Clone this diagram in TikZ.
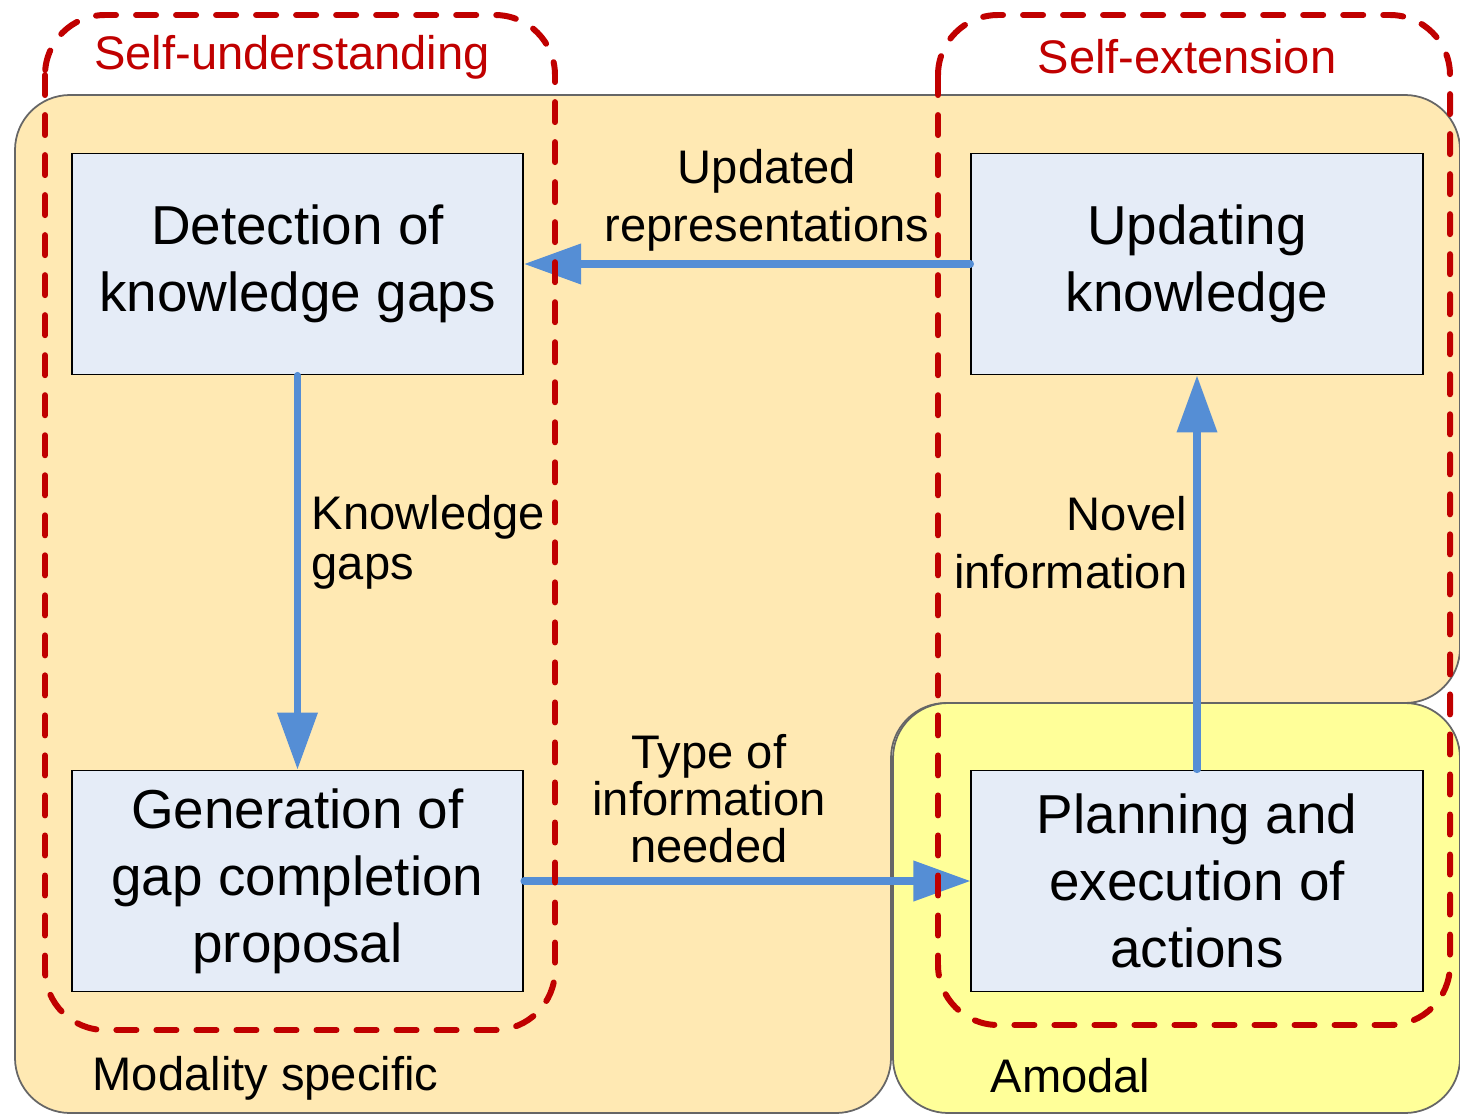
\documentclass[tikz,border=0pt]{standalone}
\usepackage{fontspec}
\setmainfont{Liberation Sans}
\usetikzlibrary{arrows.meta,positioning}
\definecolor{fondomod}{RGB}{255,233,179}
\definecolor{fondoamo}{RGB}{255,255,153}
\definecolor{celeste}{RGB}{229,236,247}
\definecolor{azulflecha}{RGB}{85,142,213}
\definecolor{rojogrupo}{RGB}{192,0,0}
\tikzset{
  zona/.style={fill=#1, draw=black!60, line width=0.5pt, rounded corners=0.55cm},
  bloque/.style={rectangle, draw, line width=0.5pt, fill=celeste, align=center,
                 minimum width=4.51cm, minimum height=2.21cm, inner sep=2pt,
                 font=\fontsize{15.6}{19}\selectfont},
  conector/.style={-{Triangle[length=5.7mm,width=3.9mm]}, line width=2pt,
                   draw=azulflecha, fill=azulflecha, line cap=round},
  grupo/.style={draw=rojogrupo, line width=1.7pt, line cap=round,
                dash pattern=on 0.2cm off 0.2cm, rounded corners=0.6cm},
  rotulo/.style={inner sep=0pt, align=center, font=\fontsize{13.4}{16.5}\selectfont},
  titgrupo/.style={rotulo, text=rojogrupo}
}

\begin{document}
\begin{tikzpicture}[x=0.01cm, y=-0.01cm]
\useasboundingbox (0,0) rectangle (1460,1115);

\path[zona=fondomod] (15,95) -- (1460,95) -- (1460,703) -- (891,703) -- (891,1113) -- (15,1113) -- cycle;
\path[zona=fondoamo] (893,703) rectangle (1460,1113);

\node[bloque] (det) at (297.5,264) {Detection of\\ knowledge gaps};
\node[bloque] (upd) at (1197,264) {Updating\\ knowledge};
\node[bloque] (gen) at (297.5,881) {Generation of\\ gap completion\\ proposal};
\node[bloque] (plan) at (1197,881) {Planning and\\ execution of\\ actions};

\draw[conector] (upd.west) -- (det.east);
\draw[conector] (det.south) -- (gen.north);
\draw[conector] (gen.east) -- (plan.west);
\draw[conector] (plan.north) -- (upd.south);

\draw[grupo] (45,15) rectangle (555,1030);
\draw[grupo] (938,15) rectangle (1450,1025);

\node[rotulo] (l-upd) at (767,200) {Updated\\ representations};
\node[rotulo, anchor=west, align=left, font=\fontsize{13.4}{14.2}\selectfont] (l-gaps) at (311,542) {Knowledge\\ gaps};
\node[rotulo, font=\fontsize{13.4}{13.4}\selectfont] (l-type) at (709,799) {Type of\\ information\\ needed};
\node[rotulo, anchor=east, align=right] (l-nov) at (1188,543) {Novel\\ information};
\node[titgrupo] (t-und) at (292,57) {Self-understanding};
\node[titgrupo] (t-ext) at (1187,57) {Self-extension};
\node[rotulo, anchor=west] (t-mod) at (92,1078) {Modality specific};
\node[rotulo, anchor=west] (t-amo) at (990,1076) {Amodal};
\end{tikzpicture}
\end{document}
